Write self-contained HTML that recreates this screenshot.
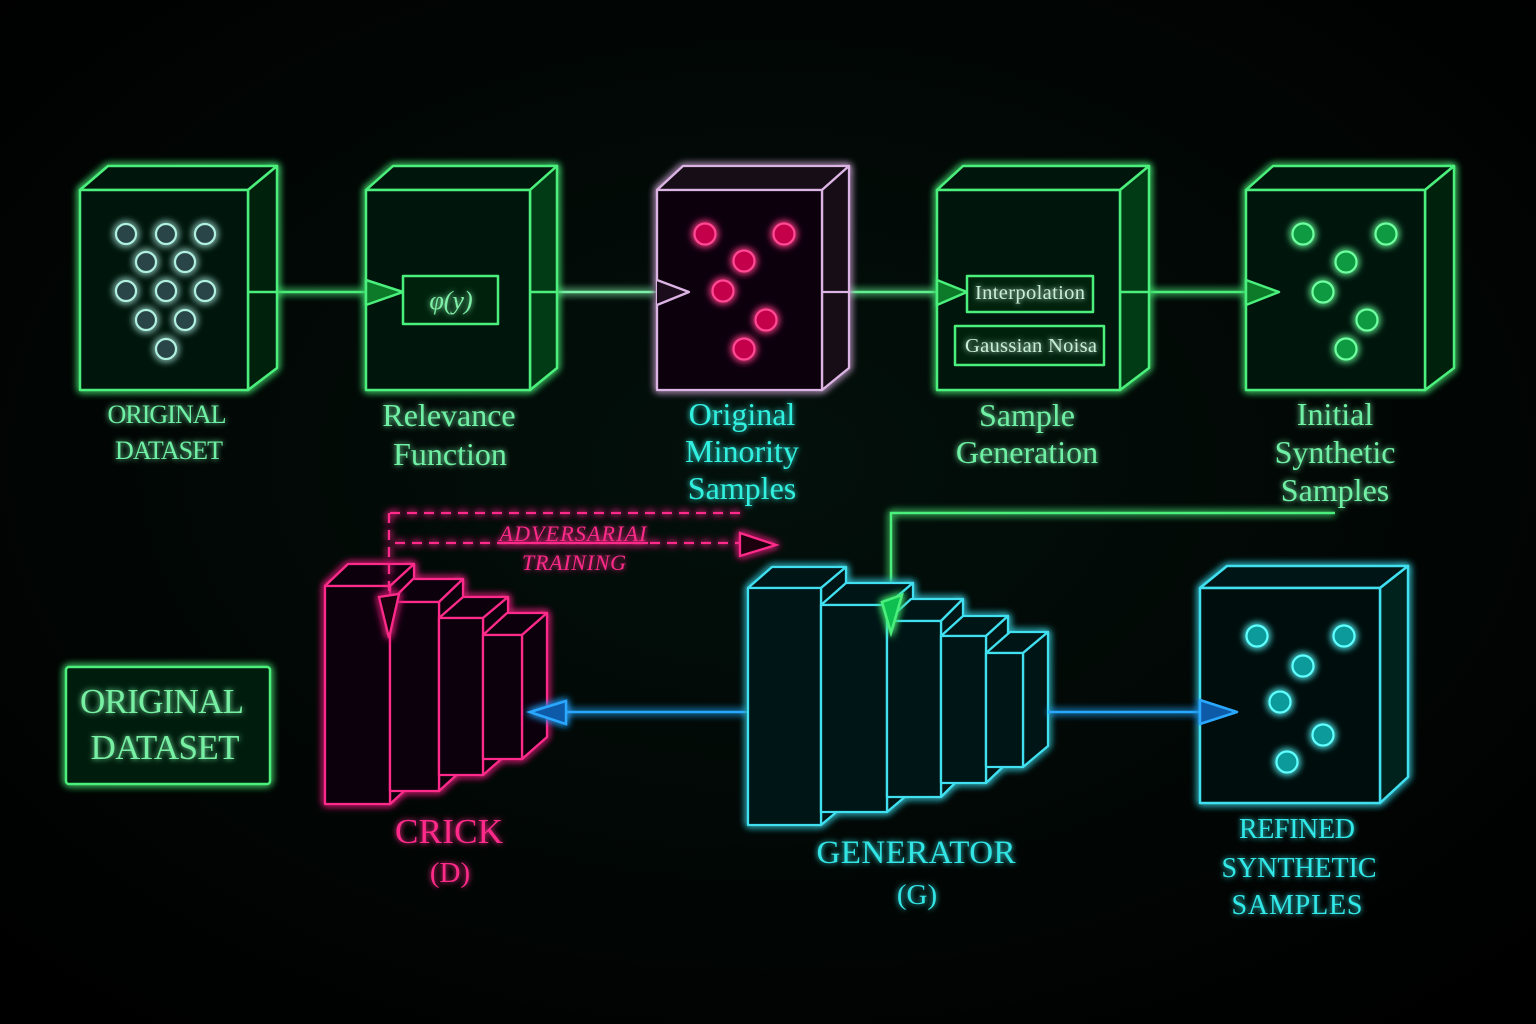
<!DOCTYPE html>
<html><head><meta charset="utf-8"><style>
html,body{margin:0;padding:0;background:#000;}
svg{display:block;}
text{font-family:"Liberation Serif",serif;}
</style></head><body>
<svg width="1536" height="1024" viewBox="0 0 1536 1024" xmlns="http://www.w3.org/2000/svg">
<defs>
<radialGradient id="bg" cx="50%" cy="45%" r="70%">
<stop offset="0" stop-color="#03100b"/><stop offset="1" stop-color="#000"/>
</radialGradient>
<filter id="gl" filterUnits="userSpaceOnUse" x="0" y="0" width="1536" height="1024">
<feGaussianBlur in="SourceGraphic" stdDeviation="4" result="b"/>
<feMerge><feMergeNode in="b"/><feMergeNode in="b"/><feMergeNode in="SourceGraphic"/></feMerge>
</filter>
<filter id="gt" filterUnits="userSpaceOnUse" x="0" y="0" width="1536" height="1024">
<feGaussianBlur in="SourceGraphic" stdDeviation="3" result="b"/>
<feMerge><feMergeNode in="b"/><feMergeNode in="SourceGraphic"/></feMerge>
</filter>
</defs>
<rect width="1536" height="1024" fill="url(#bg)"/>

<!-- top connectors -->
<g filter="url(#gl)" stroke-width="2.5" fill="none">
<line x1="248" y1="292" x2="366" y2="292" stroke="#4cf07c"/>
<line x1="530" y1="292" x2="657" y2="292" stroke="#7ef0a8"/>
<line x1="822" y1="292" x2="937" y2="292" stroke="#60f090"/>
<line x1="1120" y1="292" x2="1246" y2="292" stroke="#4cf07c"/>
</g>

<!-- Box 1 -->
<g filter="url(#gl)" stroke="#4cf07c" stroke-width="2.5" stroke-linejoin="round">
<polygon points="80,190 108,166 277,166 248,190" fill="#03180a"/>
<polygon points="248,190 277,166 277,368 248,390" fill="#042010"/>
<rect x="80" y="190" width="168" height="200" fill="#021208"/>
<line x1="248" y1="292" x2="277" y2="292"/>
</g>
<g filter="url(#gl)" fill="#2a4446" stroke="#b0f0e0" stroke-width="2.2">
<circle cx="126" cy="234" r="10"/><circle cx="166" cy="234" r="10"/><circle cx="205" cy="234" r="10"/>
<circle cx="146" cy="262" r="10"/><circle cx="185" cy="262" r="10"/>
<circle cx="126" cy="291" r="10"/><circle cx="166" cy="291" r="10"/><circle cx="205" cy="291" r="10"/>
<circle cx="146" cy="320" r="10"/><circle cx="185" cy="320" r="10"/>
<circle cx="166" cy="349" r="10"/>
</g>

<!-- Box 2 -->
<g filter="url(#gl)" stroke="#4cf07c" stroke-width="2.5" stroke-linejoin="round">
<polygon points="366,190 393,166 557,166 530,190" fill="#03180a"/>
<polygon points="530,190 557,166 557,368 530,390" fill="#063a16"/>
<rect x="366" y="190" width="164" height="200" fill="#021208"/>
<line x1="530" y1="292" x2="557" y2="292"/>
<polygon points="366,280 403,292 366,305" fill="#0a7a2a"/>
<rect x="403" y="276" width="95" height="48" fill="#03200c"/>
</g>
<text x="451" y="309" text-anchor="middle" font-size="26" font-style="italic" fill="#80f0a8" filter="url(#gt)">φ(y)</text>

<!-- Box 3 -->
<g filter="url(#gl)" stroke="#dcb4e4" stroke-width="2.3" stroke-linejoin="round">
<polygon points="657,190 683,166 849,166 822,190" fill="#120812"/>
<polygon points="822,190 849,166 849,368 822,390" fill="#160a16"/>
<rect x="657" y="190" width="165" height="200" fill="#0e060e"/>
<line x1="822" y1="292" x2="849" y2="292"/>
<polyline points="657,280 689,292 657,305" fill="#1c0c1c"/>
</g>
<g filter="url(#gl)" fill="#c4004c" stroke="#ff4a94" stroke-width="2.2">
<circle cx="705" cy="234" r="10.5"/><circle cx="784" cy="234" r="10.5"/>
<circle cx="744" cy="261" r="10.5"/><circle cx="723" cy="291" r="10.5"/>
<circle cx="766" cy="320" r="10.5"/><circle cx="744" cy="349" r="10.5"/>
</g>

<!-- Box 4 -->
<g filter="url(#gl)" stroke="#4cf07c" stroke-width="2.5" stroke-linejoin="round">
<polygon points="937,190 963,166 1149,166 1120,190" fill="#03180a"/>
<polygon points="1120,190 1149,166 1149,368 1120,390" fill="#063a16"/>
<rect x="937" y="190" width="183" height="200" fill="#021208"/>
<line x1="1120" y1="292" x2="1149" y2="292"/>
<polygon points="937,280 967,292 937,305" fill="#0a7a2a"/>
<rect x="967" y="276" width="126" height="36" fill="#03200c"/>
<rect x="955" y="326" width="149" height="39" fill="#03200c"/>
</g>
<g fill="#c8f0d8" filter="url(#gt)">
<text x="1030" y="299" text-anchor="middle" font-size="20.5" textLength="110">Interpolation</text>
<text x="1031" y="352" text-anchor="middle" font-size="20.5" textLength="132">Gaussian Noisa</text>
</g>

<!-- Box 5 -->
<g filter="url(#gl)" stroke="#4cf07c" stroke-width="2.5" stroke-linejoin="round">
<polygon points="1246,190 1273,166 1454,166 1425,190" fill="#03180a"/>
<polygon points="1425,190 1454,166 1454,368 1425,390" fill="#042010"/>
<rect x="1246" y="190" width="179" height="200" fill="#021208"/>
<polygon points="1246,280 1279,292 1246,305" fill="#0a7a2a"/>
</g>
<g filter="url(#gl)" fill="#0a9a40" stroke="#70ffa0" stroke-width="2.2">
<circle cx="1303" cy="234" r="10.5"/><circle cx="1386" cy="234" r="10.5"/>
<circle cx="1346" cy="262" r="10.5"/><circle cx="1323" cy="292" r="10.5"/>
<circle cx="1367" cy="320" r="10.5"/><circle cx="1346" cy="349" r="10.5"/>
</g>

<!-- top labels -->
<g filter="url(#gt)" text-anchor="middle">
<text x="167" y="423" font-size="26" fill="#70f0a4" textLength="119">ORIGINAL</text>
<text x="169" y="459" font-size="26" fill="#70f0a4" textLength="108">DATASET</text>
<text x="449" y="426" font-size="32" fill="#70f0a4">Relevance</text>
<text x="450" y="465" font-size="32" fill="#70f0a4">Function</text>
<text x="742" y="425" font-size="32" fill="#30f0e0">Original</text>
<text x="742" y="462" font-size="32" fill="#30f0e0">Minority</text>
<text x="742" y="499" font-size="32" fill="#30f0e0">Samples</text>
<text x="1027" y="426" font-size="32" fill="#70f0a4">Sample</text>
<text x="1027" y="463" font-size="32" fill="#70f0a4">Generation</text>
<text x="1335" y="425" font-size="32" fill="#70f0a4">Initial</text>
<text x="1335" y="463" font-size="32" fill="#70f0a4">Synthetic</text>
<text x="1335" y="501" font-size="32" fill="#70f0a4">Samples</text>
</g>

<!-- green feedback line -->
<g filter="url(#gl)" stroke="#4cf07c" stroke-width="2.5" fill="none">
<polyline points="1335,513 891,513 891,600"/>
</g>

<!-- ORIGINAL DATASET box -->
<g filter="url(#gl)">
<rect x="66" y="667" width="204" height="117" rx="3" fill="#021a08" stroke="#4cf07c" stroke-width="2.5"/>
</g>
<g filter="url(#gt)" text-anchor="middle" fill="#78f0a4">
<text x="162" y="713" font-size="35" textLength="164">ORIGINAL</text>
<text x="165" y="759" font-size="35" textLength="149">DATASET</text>
</g>

<!-- Discriminator -->
<g filter="url(#gl)" stroke="#ff2a8a" stroke-width="2.3" stroke-linejoin="round" fill="#0a0208">
<polygon points="325,586 348,564 414,564 390,586"/>
<polygon points="390,586 414,564 414,782 390,804"/>
<rect x="325" y="586" width="65" height="218"/>
<polygon points="390,602 413,579 463,579 439,602"/>
<polygon points="439,602 463,579 463,769 439,791"/>
<rect x="390" y="602" width="49" height="189"/>
<polygon points="439,618 463,597 508,597 483,618"/>
<polygon points="483,618 508,597 508,753 483,775"/>
<rect x="439" y="618" width="44" height="157"/>
<polygon points="483,635 507,613 547,613 522,635"/>
<polygon points="522,635 547,613 547,737 522,759"/>
<rect x="483" y="635" width="39" height="124"/>
</g>

<!-- adversarial dashed -->
<g filter="url(#gl)" stroke="#ff2a8a" stroke-width="2.3" fill="none">
<line x1="390" y1="513" x2="742" y2="513" stroke-dasharray="10 7"/>
<line x1="389" y1="513" x2="389" y2="600" stroke-dasharray="10 7"/>
<line x1="395" y1="543" x2="740" y2="543" stroke-dasharray="10 7"/>
<line x1="498" y1="543" x2="648" y2="543"/>
<polygon points="740,533 776,545 740,556" fill="#1a0410"/>
<polygon points="379,597 399,594 389,638" fill="#1a0410"/>
</g>
<g filter="url(#gt)" fill="#ff2a8a" font-style="italic" text-anchor="middle">
<text x="573" y="541" font-size="22" textLength="147">ADVERSARIAI</text>
<text x="574" y="570" font-size="22" textLength="104">TRAINING</text>
</g>
<g filter="url(#gt)" fill="#ff2a8a" text-anchor="middle">
<text x="449" y="843" font-size="35" textLength="108">CRICK</text>
<text x="450" y="882" font-size="29">(D)</text>
</g>

<!-- blue arrow to D -->
<g filter="url(#gl)" stroke="#2aa8ff" stroke-width="2.5">
<line x1="566" y1="712" x2="748" y2="712"/>
<polygon points="566,701 530,712 566,724" fill="#0c5aa8"/>
</g>

<!-- Generator -->
<g filter="url(#gl)" stroke="#40e0f0" stroke-width="2.3" stroke-linejoin="round" fill="#021418">
<polygon points="748,588 772,567 846,567 821,588"/>
<polygon points="821,588 846,567 846,804 821,825"/>
<rect x="748" y="588" width="73" height="237"/>
<polygon points="821,605 846,583 913,583 887,605"/>
<polygon points="887,605 913,583 913,790 887,812"/>
<rect x="821" y="605" width="66" height="207"/>
<polygon points="887,621 911,599 963,599 941,621"/>
<polygon points="941,621 963,599 963,775 941,797"/>
<rect x="887" y="621" width="54" height="176"/>
<polygon points="941,636 963,616 1008,616 986,636"/>
<polygon points="986,636 1008,616 1008,762 986,783"/>
<rect x="941" y="636" width="45" height="147"/>
<polygon points="986,653 1010,632 1048,632 1023,653"/>
<polygon points="1023,653 1048,632 1048,746 1023,767"/>
<rect x="986" y="653" width="37" height="114"/>
</g>
<!-- green arrowhead into generator -->
<g filter="url(#gl)" stroke="#4cf07c" stroke-width="2.5">
<polygon points="882,602 902,595 891,633" fill="#10c050"/>
</g>
<g filter="url(#gt)" fill="#30e4e4" text-anchor="middle">
<text x="916" y="863" font-size="33" textLength="199">GENERATOR</text>
<text x="917" y="904" font-size="29">(G)</text>
</g>

<!-- blue arrow to refined -->
<g filter="url(#gl)" stroke="#2aa8ff" stroke-width="2.5">
<line x1="1048" y1="712" x2="1200" y2="712"/>
</g>

<!-- Refined box -->
<g filter="url(#gl)" stroke="#40e0f0" stroke-width="2.5" stroke-linejoin="round">
<polygon points="1200,588 1227,566 1408,566 1380,588" fill="#021416"/>
<polygon points="1380,588 1408,566 1408,777 1380,803" fill="#03201f"/>
<rect x="1200" y="588" width="180" height="215" fill="#010e10"/>
<polygon points="1200,700 1237,712 1200,724" fill="#0c5aa8" stroke="#2aa8ff"/>
</g>
<g filter="url(#gl)" fill="#0c9a9a" stroke="#60ffff" stroke-width="2.2">
<circle cx="1257" cy="636" r="10.5"/><circle cx="1344" cy="636" r="10.5"/>
<circle cx="1303" cy="666" r="10.5"/><circle cx="1280" cy="702" r="10.5"/>
<circle cx="1323" cy="735" r="10.5"/><circle cx="1287" cy="762" r="10.5"/>
</g>
<g filter="url(#gt)" fill="#30e8e8" text-anchor="middle">
<text x="1297" y="838" font-size="28" textLength="116">REFINED</text>
<text x="1299" y="877" font-size="28" textLength="155">SYNTHETIC</text>
<text x="1297" y="914" font-size="28" textLength="131">SAMPLES</text>
</g>
</svg>
</body></html>
